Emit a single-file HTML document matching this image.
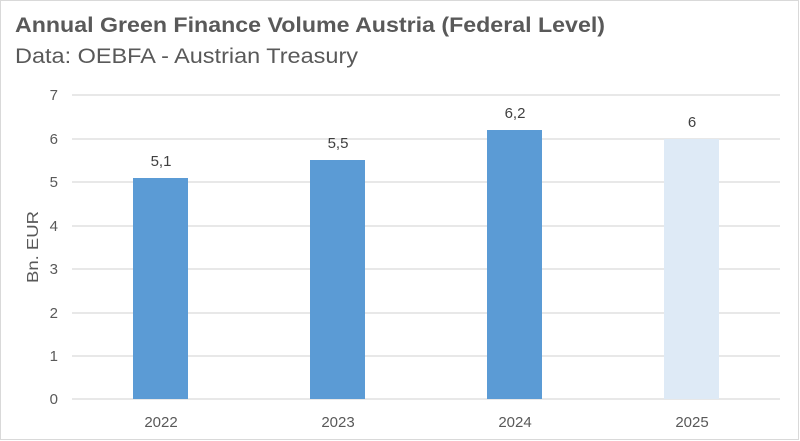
<!DOCTYPE html>
<html><head><style>
html,body{margin:0;padding:0;background:#fff;}
svg{display:block;font-family:"Liberation Sans",Arial,sans-serif;}
</style></head><body>
<svg width="800" height="441" viewBox="0 0 800 441">
<rect x="0.5" y="0.5" width="798" height="439" fill="#fff" stroke="#d9d9d9"/>
<text x="15" y="32" font-size="21" font-weight="bold" fill="#595959" textLength="590" lengthAdjust="spacingAndGlyphs">Annual Green Finance Volume Austria (Federal Level)</text>
<text x="15" y="63" font-size="21" fill="#595959" textLength="343" lengthAdjust="spacingAndGlyphs">Data: OEBFA  - Austrian Treasury</text>
<g stroke="#d9d9d9" stroke-width="1.3">
<line x1="72" x2="780" y1="95" y2="95"/>
<line x1="72" x2="780" y1="139" y2="139"/>
<line x1="72" x2="780" y1="182" y2="182"/>
<line x1="72" x2="780" y1="226" y2="226"/>
<line x1="72" x2="780" y1="269" y2="269"/>
<line x1="72" x2="780" y1="313" y2="313"/>
<line x1="72" x2="780" y1="356" y2="356"/>
<line x1="72" x2="780" y1="399" y2="399"/>
</g>
<g font-size="15" fill="#595959" text-anchor="end">
<text x="58" y="100">7</text><text x="58" y="144">6</text><text x="58" y="187">5</text><text x="58" y="231">4</text>
<text x="58" y="274">3</text><text x="58" y="318">2</text><text x="58" y="361">1</text><text x="58" y="404">0</text>
</g>
<text transform="translate(38,247) rotate(-90)" font-size="16" fill="#595959" text-anchor="middle" textLength="72" lengthAdjust="spacingAndGlyphs">Bn. EUR</text>
<rect x="133" y="178" width="55" height="221" fill="#5b9bd5"/>
<rect x="310" y="160" width="55" height="239" fill="#5b9bd5"/>
<rect x="487" y="130" width="55" height="269" fill="#5b9bd5"/>
<rect x="664" y="139" width="55" height="260" fill="#deeaf6"/>
<g font-size="15" fill="#404040" text-anchor="middle">
<text x="161" y="166">5,1</text><text x="338" y="148">5,5</text><text x="515" y="118">6,2</text><text x="692" y="127">6</text>
</g>
<g font-size="15" fill="#595959" text-anchor="middle">
<text x="161" y="427">2022</text><text x="338" y="427">2023</text><text x="515" y="427">2024</text><text x="692" y="427">2025</text>
</g>
</svg>
</body></html>
